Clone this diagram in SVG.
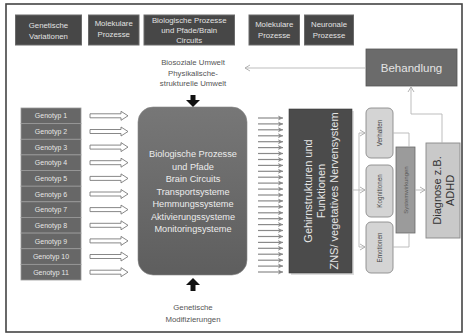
<svg xmlns="http://www.w3.org/2000/svg" xmlns:xlink="http://www.w3.org/1999/xlink" width="468" height="334" viewBox="0 0 468 334">
<defs>
<style>
text{font-family:"Liberation Sans",Arial,sans-serif;}
.top rect{fill:#474747;stroke:#6a6a6a;stroke-width:1;}
.top text{fill:#e2e2e2;font-size:7.8px;text-anchor:middle;}
.geno rect{fill:#676767;stroke:#9a9a9a;stroke-width:0.8;}
.geno text{fill:#e6e6e6;font-size:7px;text-anchor:middle;}
.lbl{fill:#555;font-size:7.8px;text-anchor:middle;}
.thin{fill:none;stroke:#b5b5b5;stroke-width:0.9;}
.small rect{fill:#d4d4d4;stroke:#8a8a8a;stroke-width:0.9;}
.small text{fill:#444;font-size:6.3px;text-anchor:middle;}
</style>
<linearGradient id="bigg" x1="0" y1="0" x2="0" y2="1">
<stop offset="0" stop-color="#777"/>
<stop offset="1" stop-color="#5e5e5e"/>
</linearGradient>
<marker id="chev" markerWidth="6" markerHeight="6" refX="5" refY="3" orient="auto" markerUnits="userSpaceOnUse">
<path d="M0,0.5 L5,3 L0,5.5 L1.2,3 Z" fill="#8a8a8a"/>
</marker>
<marker id="open" markerWidth="8" markerHeight="8" refX="6" refY="4" orient="auto" markerUnits="userSpaceOnUse">
<path d="M1,1 L6,4 L1,7" fill="none" stroke="#aaa" stroke-width="0.9"/>
</marker>
<path id="hollow" d="M0,-2 H31 V-4.5 L38,0 L31,4.5 V2 H0 Z" fill="#fff" stroke="#7a7a7a" stroke-width="0.9"/>
<path id="small" d="M0,0 H25" stroke="#8a8a8a" stroke-width="1.2" marker-end="url(#chev)"/>
</defs>
<rect x="0" y="0" width="468" height="334" fill="#fff"/>
<rect x="6" y="4" width="456" height="328" fill="none" stroke="#444" stroke-width="1.6"/>

<g id="top-genetische-variationen" class="top"><rect x="15.5" y="15" width="66" height="30"/><text x="48.5" y="28">Genetische</text><text x="48.5" y="38.5">Variationen</text></g>
<g id="top-molekulare-1" class="top"><rect x="88.5" y="15" width="50.5" height="30"/><text x="113.7" y="26">Molekulare</text><text x="113.7" y="36.5">Prozesse</text></g>
<g id="top-biologische" class="top"><rect x="144" y="15" width="90.5" height="30"/><text x="189.2" y="22.5">Biologische Prozesse</text><text x="189.2" y="32.5">und Pfade/Brain</text><text x="189.2" y="42.5">Circuits</text></g>
<g id="top-molekulare-2" class="top"><rect x="249" y="15" width="50.5" height="30"/><text x="274.2" y="27">Molekulare</text><text x="274.2" y="37.5">Prozesse</text></g>
<g id="top-neuronale" class="top"><rect x="304.5" y="15" width="49" height="30"/><text x="329" y="27">Neuronale</text><text x="329" y="37.5">Prozesse</text></g>

<g id="biosoziale-umwelt"><text class="lbl" x="193" y="64.5">Biosoziale Umwelt</text><text class="lbl" x="193" y="75.5">Physikalische-</text><text class="lbl" x="193" y="86">strukturelle Umwelt</text></g>

<g id="genotypen" class="geno">
<rect x="21" y="108" width="60" height="15.64"/><text x="51" y="118.4">Genotyp 1</text>
<rect x="21" y="123.64" width="60" height="15.64"/><text x="51" y="134">Genotyp 2</text>
<rect x="21" y="139.27" width="60" height="15.64"/><text x="51" y="149.7">Genotyp 3</text>
<rect x="21" y="154.91" width="60" height="15.64"/><text x="51" y="165.3">Genotyp 4</text>
<rect x="21" y="170.55" width="60" height="15.64"/><text x="51" y="181">Genotyp 5</text>
<rect x="21" y="186.18" width="60" height="15.64"/><text x="51" y="196.6">Genotyp 6</text>
<rect x="21" y="201.82" width="60" height="15.64"/><text x="51" y="212.2">Genotyp 7</text>
<rect x="21" y="217.45" width="60" height="15.64"/><text x="51" y="227.9">Genotyp 8</text>
<rect x="21" y="233.09" width="60" height="15.64"/><text x="51" y="243.5">Genotyp 9</text>
<rect x="21" y="248.73" width="60" height="15.64"/><text x="51" y="259.1">Genotyp 10</text>
<rect x="21" y="264.36" width="60" height="15.64"/><text x="51" y="274.8">Genotyp 11</text>
</g>

<g id="biologische-prozesse">
<rect x="138" y="107" width="109" height="168" rx="15" fill="url(#bigg)" stroke="#888" stroke-width="0.6"/>
<g fill="#ececec" font-size="9.2px" text-anchor="middle">
<text x="193" y="157">Biologische Prozesse</text>
<text x="193" y="169.5">und Pfade</text>
<text x="193" y="182">Brain Circuits</text>
<text x="193" y="194.5">Transportsysteme</text>
<text x="193" y="207">Hemmungssysteme</text>
<text x="193" y="219.5">Aktivierungssysteme</text>
<text x="193" y="232">Monitoringsysteme</text>
</g>
</g>

<g id="genetische-modifizierungen"><text class="lbl" x="193" y="310">Genetische</text><text class="lbl" x="193" y="322">Modifizierungen</text></g>

<g id="gehirnstrukturen">
<rect x="291" y="111" width="63" height="164" fill="#bbb" opacity="0.5"/>
<rect x="289" y="109" width="63" height="164" fill="#4b4b4b" stroke="#3a3a3a" stroke-width="0.6"/>
<g fill="#e6e6e6" font-size="11px" text-anchor="middle" transform="translate(320.5,191) rotate(-90)">
<text x="0" y="-8.5">Gehirnstrukturen und</text>
<text x="0" y="4">Funktionen</text>
<text x="0" y="17">ZNS/ vegetatives Nervensystem</text>
</g>
</g>

<g id="verhalten" class="small"><rect x="366" y="108" width="27" height="50" rx="5"/><text transform="translate(382.2,133) rotate(-90)">Verhalten</text></g>
<g id="kognitionen" class="small"><rect x="366" y="165" width="27" height="52" rx="5"/><text transform="translate(382.2,191) rotate(-90)">Kognitionen</text></g>
<g id="emotionen" class="small"><rect x="366" y="222" width="27" height="51" rx="5"/><text transform="translate(382.2,247.5) rotate(-90)">Emotionen</text></g>

<g id="systemwirkungen"><rect x="396" y="147" width="19" height="86" fill="#9b9b9b" stroke="#6a6a6a" stroke-width="0.8"/><text transform="translate(408,190) rotate(-90)" fill="#5a5a5a" font-size="6px" text-anchor="middle">Systemwirkungen</text></g>

<g id="diagnose"><rect x="426" y="143" width="34" height="95" fill="#c9c9c9" stroke="#888" stroke-width="0.9"/>
<g fill="#333" font-size="11px" text-anchor="middle" transform="translate(443,190.5) rotate(-90)"><text x="0" y="-2.5">Diagnose z.B.</text><text x="0" y="10.5">ADHD</text></g></g>

<g id="behandlung"><rect x="366" y="49" width="91" height="37" fill="#6b6b6b" stroke="#555" stroke-width="0.8"/><text x="411.5" y="71.5" fill="#e4e4e4" font-size="11.5px" text-anchor="middle">Behandlung</text></g>

<g id="connectors">
<path d="M193,95 V101" stroke="#111" stroke-width="5"/>
<path d="M186,100 L200,100 L193,107 Z" fill="#111"/>
<path d="M193,291 V284" stroke="#111" stroke-width="5"/>
<path d="M186,285 L200,285 L193,278 Z" fill="#111"/>
<g id="hollow-arrows">
<use xlink:href="#hollow" x="90" y="115.8"/>
<use xlink:href="#hollow" x="90" y="131.5"/>
<use xlink:href="#hollow" x="90" y="147.1"/>
<use xlink:href="#hollow" x="90" y="162.7"/>
<use xlink:href="#hollow" x="90" y="178.4"/>
<use xlink:href="#hollow" x="90" y="194"/>
<use xlink:href="#hollow" x="90" y="209.6"/>
<use xlink:href="#hollow" x="90" y="225.3"/>
<use xlink:href="#hollow" x="90" y="240.9"/>
<use xlink:href="#hollow" x="90" y="256.5"/>
<use xlink:href="#hollow" x="90" y="272.2"/>
</g>
<g id="small-arrows">
<use xlink:href="#small" x="258" y="118"/>
<use xlink:href="#small" x="258" y="123.9"/>
<use xlink:href="#small" x="258" y="129.8"/>
<use xlink:href="#small" x="258" y="135.8"/>
<use xlink:href="#small" x="258" y="141.7"/>
<use xlink:href="#small" x="258" y="147.6"/>
<use xlink:href="#small" x="258" y="153.5"/>
<use xlink:href="#small" x="258" y="159.5"/>
<use xlink:href="#small" x="258" y="165.4"/>
<use xlink:href="#small" x="258" y="171.3"/>
<use xlink:href="#small" x="258" y="177.2"/>
<use xlink:href="#small" x="258" y="183.1"/>
<use xlink:href="#small" x="258" y="189.1"/>
<use xlink:href="#small" x="258" y="195"/>
<use xlink:href="#small" x="258" y="200.9"/>
<use xlink:href="#small" x="258" y="206.8"/>
<use xlink:href="#small" x="258" y="212.8"/>
<use xlink:href="#small" x="258" y="218.7"/>
<use xlink:href="#small" x="258" y="224.6"/>
<use xlink:href="#small" x="258" y="230.5"/>
<use xlink:href="#small" x="258" y="236.5"/>
<use xlink:href="#small" x="258" y="242.4"/>
<use xlink:href="#small" x="258" y="248.3"/>
<use xlink:href="#small" x="258" y="254.2"/>
<use xlink:href="#small" x="258" y="260.2"/>
<use xlink:href="#small" x="258" y="266.1"/>
<use xlink:href="#small" x="258" y="272"/>
</g>
<path class="thin" d="M352,190 H359"/>
<path class="thin" d="M359,133 V247"/>
<path class="thin" d="M359,133 H365" marker-end="url(#open)"/>
<path class="thin" d="M359,190 H365" marker-end="url(#open)"/>
<path class="thin" d="M359,247 H365" marker-end="url(#open)"/>
<path class="thin" d="M393,133 H409 V147"/>
<path class="thin" d="M393,247 H409 V233"/>
<path class="thin" d="M415,190 H425" marker-end="url(#open)"/>
<path class="thin" d="M442,143 V114 H411 V87" marker-end="url(#open)"/>
<path class="thin" d="M366,68 H245" marker-end="url(#open)"/>
</g>
</svg>
